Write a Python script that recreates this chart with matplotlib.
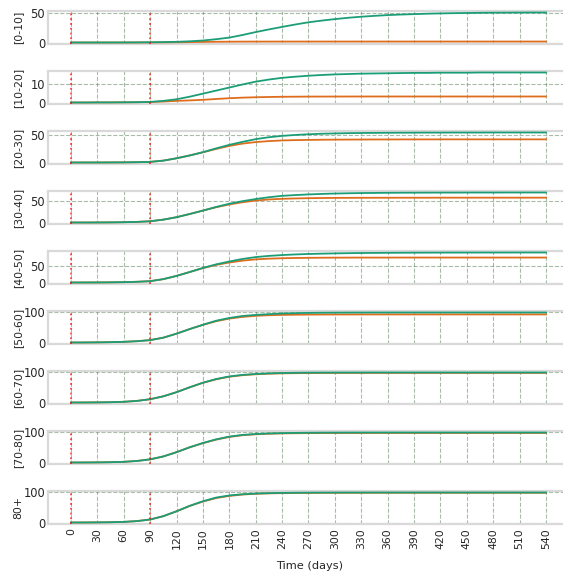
import matplotlib
matplotlib.use("Agg")
import matplotlib.pyplot as plt

# Simulation time axis (days)
days = [0, 15, 30, 45, 60, 75, 90, 105, 120, 135, 150, 165, 180, 195, 210, 225, 240, 255,
        270, 285, 300, 315, 330, 345, 360, 375, 390, 405, 420, 435, 450, 465, 480, 495,
        510, 525, 540]

age_groups = ["[0-10]", "[10-20]", "[20-30]", "[30-40]", "[40-50]",
              "[50-60]", "[60-70]", "[70-80]", "80+"]

# Cumulative percentage per age group: scenario A (teal) and scenario B (orange)
scen_a_00 = [0, 0, 0, 0.05, 0.1, 0.2, 0.4, 0.7, 1.1, 2.0, 3.3, 5.5, 8.2, 12.5, 17.4, 21.8, 26.0, 30.0,
             33.7, 36.5, 39.0, 41.2, 43.0, 44.4, 45.7, 46.6, 47.3, 48.0, 48.5, 48.9, 49.2, 49.5, 49.7, 49.8,
             49.9, 50.0, 50.0]
scen_b_00 = [0, 0, 0, 0, 0, 0.05, 0.1, 0.2, 0.4, 0.7, 0.95, 1.2, 1.35, 1.45, 1.5, 1.52, 1.54, 1.55,
             1.56, 1.57, 1.58, 1.58, 1.59, 1.59, 1.6, 1.6, 1.6, 1.6, 1.6, 1.6, 1.6, 1.6, 1.6, 1.6,
             1.6, 1.6, 1.6]

scen_a_10 = [0.05, 0.05, 0.1, 0.1, 0.15, 0.2, 0.35, 0.9, 1.75, 3.1, 4.7, 6.3, 7.9, 9.5, 11.0, 12.1, 13.0, 13.6,
             14.1, 14.5, 14.8, 15.0, 15.2, 15.3, 15.4, 15.5, 15.6, 15.6, 15.7, 15.7, 15.7, 15.8, 15.8, 15.8,
             15.8, 15.8, 15.8]
scen_b_10 = [0.05, 0.05, 0.1, 0.1, 0.15, 0.2, 0.3, 0.55, 0.9, 1.15, 1.45, 1.9, 2.3, 2.6, 2.8, 2.95, 3.05, 3.1,
             3.15, 3.17, 3.18, 3.19, 3.2, 3.2, 3.2, 3.2, 3.2, 3.2, 3.2, 3.2, 3.2, 3.2, 3.2, 3.2,
             3.2, 3.2, 3.2]

scen_a_20 = [0.05, 0.1, 0.1, 0.2, 0.3, 0.6, 1.2, 3.5, 7.8, 13.0, 19.0, 26.0, 32.5, 38.0, 43.0, 46.5, 49.0, 50.7,
             52.0, 52.9, 53.5, 54.0, 54.3, 54.5, 54.7, 54.8, 54.9, 55.0, 55.0, 55.1, 55.1, 55.1, 55.2, 55.2,
             55.2, 55.2, 55.2]
scen_b_20 = [0.05, 0.1, 0.1, 0.2, 0.3, 0.6, 1.2, 3.5, 7.8, 13.0, 18.8, 25.0, 30.5, 34.8, 37.6, 39.4, 40.6, 41.2,
             41.6, 41.9, 42.1, 42.2, 42.3, 42.4, 42.4, 42.5, 42.5, 42.5, 42.6, 42.6, 42.6, 42.6, 42.6, 42.6,
             42.6, 42.6, 42.6]

scen_a_30 = [0.1, 0.1, 0.2, 0.4, 0.8, 1.5, 3.0, 6.8, 12.5, 20.0, 28.0, 36.5, 44.0, 50.0, 55.0, 59.2, 62.5, 64.3,
             65.8, 67.0, 67.9, 68.5, 69.0, 69.3, 69.6, 69.8, 69.9, 70.0, 70.1, 70.1, 70.2, 70.2, 70.2, 70.3,
             70.3, 70.3, 70.3]
scen_b_30 = [0.1, 0.1, 0.2, 0.4, 0.8, 1.5, 3.0, 6.8, 12.5, 20.0, 28.0, 35.8, 42.3, 47.5, 51.5, 54.0, 55.5, 56.4,
             57.0, 57.4, 57.7, 57.8, 57.9, 58.0, 58.0, 58.1, 58.1, 58.1, 58.2, 58.2, 58.2, 58.2, 58.2, 58.2,
             58.2, 58.2, 58.2]

scen_a_40 = [0.1, 0.2, 0.3, 0.6, 1.1, 2.2, 4.0, 10.0, 19.5, 31.0, 43.0, 53.5, 62.0, 69.5, 75.0, 78.5, 81.0, 82.8,
             84.1, 85.1, 85.9, 86.5, 87.0, 87.3, 87.6, 87.8, 88.0, 88.1, 88.2, 88.3, 88.3, 88.4, 88.4, 88.4,
             88.5, 88.5, 88.5]
scen_b_40 = [0.1, 0.2, 0.3, 0.6, 1.1, 2.2, 4.0, 10.0, 19.5, 31.0, 42.5, 52.0, 59.0, 64.5, 68.3, 70.4, 71.6, 72.3,
             72.8, 73.1, 73.3, 73.4, 73.5, 73.5, 73.5, 73.6, 73.6, 73.6, 73.6, 73.6, 73.6, 73.6, 73.6, 73.6,
             73.6, 73.6, 73.6]

scen_a_50 = [0.3, 0.4, 0.8, 1.4, 2.5, 4.5, 8.0, 16.0, 29.0, 44.0, 58.0, 71.0, 80.0, 86.5, 90.0, 92.5, 94.5, 95.7,
             96.5, 97.0, 97.3, 97.5, 97.6, 97.7, 97.7, 97.8, 97.8, 97.8, 97.8, 97.8, 97.8, 97.8, 97.8, 97.8,
             97.8, 97.8, 97.8]
scen_b_50 = [0.3, 0.4, 0.8, 1.4, 2.5, 4.5, 8.0, 16.0, 29.0, 44.0, 57.5, 69.5, 78.0, 83.5, 87.0, 89.0, 90.0, 90.6,
             91.0, 91.2, 91.3, 91.4, 91.4, 91.5, 91.5, 91.5, 91.5, 91.5, 91.5, 91.5, 91.5, 91.5, 91.5, 91.5,
             91.5, 91.5, 91.5]

scen_a_60 = [0.3, 0.4, 0.7, 1.3, 2.6, 5.5, 11.0, 20.5, 34.0, 50.0, 65.0, 77.0, 85.5, 90.5, 93.5, 95.4, 96.6, 97.3,
             97.8, 98.0, 98.1, 98.2, 98.2, 98.3, 98.3, 98.3, 98.3, 98.3, 98.3, 98.3, 98.3, 98.3, 98.3, 98.3,
             98.3, 98.3, 98.3]
scen_b_60 = [0.3, 0.4, 0.7, 1.3, 2.6, 5.5, 11.0, 20.5, 34.0, 50.0, 64.5, 76.0, 84.5, 89.5, 92.5, 94.4, 95.5, 96.1,
             96.5, 96.7, 96.8, 96.9, 96.9, 97.0, 97.0, 97.0, 97.0, 97.0, 97.0, 97.0, 97.0, 97.0, 97.0, 97.0,
             97.0, 97.0, 97.0]

scen_a_70 = [0.2, 0.3, 0.6, 1.2, 2.4, 5.2, 10.5, 20.0, 34.0, 50.0, 64.0, 76.0, 85.0, 90.5, 93.5, 95.3, 96.4, 97.1,
             97.6, 97.9, 98.1, 98.2, 98.3, 98.3, 98.4, 98.4, 98.4, 98.4, 98.4, 98.4, 98.4, 98.4, 98.4, 98.4,
             98.4, 98.4, 98.4]
scen_b_70 = [0.2, 0.3, 0.6, 1.2, 2.4, 5.2, 10.5, 20.0, 34.0, 50.0, 63.5, 75.0, 84.0, 89.5, 92.5, 94.3, 95.4, 96.0,
             96.4, 96.6, 96.7, 96.8, 96.8, 96.9, 96.9, 96.9, 96.9, 96.9, 96.9, 96.9, 96.9, 96.9, 96.9, 96.9,
             96.9, 96.9, 96.9]

scen_a_80 = [0.2, 0.3, 0.6, 1.1, 2.2, 4.8, 10.0, 21.0, 37.0, 55.0, 70.0, 82.0, 89.0, 93.0, 95.3, 96.6, 97.4, 97.9,
             98.2, 98.4, 98.5, 98.6, 98.6, 98.7, 98.7, 98.7, 98.7, 98.7, 98.7, 98.7, 98.7, 98.7, 98.7, 98.7,
             98.7, 98.7, 98.7]
scen_b_80 = [0.2, 0.3, 0.6, 1.1, 2.2, 4.8, 10.0, 21.0, 37.0, 54.5, 69.0, 80.5, 87.5, 92.0, 94.5, 95.8, 96.6, 97.1,
             97.4, 97.6, 97.7, 97.7, 97.8, 97.8, 97.8, 97.8, 97.8, 97.8, 97.8, 97.8, 97.8, 97.8, 97.8, 97.8,
             97.8, 97.8, 97.8]

scen_a = [scen_a_00, scen_a_10, scen_a_20, scen_a_30, scen_a_40, scen_a_50, scen_a_60, scen_a_70, scen_a_80]
scen_b = [scen_b_00, scen_b_10, scen_b_20, scen_b_30, scen_b_40, scen_b_50, scen_b_60, scen_b_70, scen_b_80]

y_ticks = [[0, 50], [0, 10], [0, 50], [0, 50], [0, 50], [0, 100], [0, 100], [0, 100], [0, 100]]
x_ticks = [0, 30, 60, 90, 120, 150, 180, 210, 240, 270, 300, 330, 360, 390, 420, 450, 480, 510, 540]
event_days = [0, 90]

color_a = "#1b9e77"
color_b = "#de6d1e"
text_color = "#262626"

W, H = 563, 574
fig = plt.figure(figsize=(W / 100, H / 100), dpi=100)

ax_left = 48
ax_right = 563
panel_h = 33
panel_step = 60
first_top = 11

axes = []
for i, grp in enumerate(age_groups):
    top = first_top + panel_step * i
    ax = fig.add_axes([ax_left / W, 1 - (top + panel_h) / H,
                       (ax_right - ax_left) / W, panel_h / H])
    axes.append(ax)

    ax.plot(days, scen_b[i], color=color_b, lw=1.3, zorder=3)
    ax.plot(days, scen_a[i], color=color_a, lw=1.3, zorder=4)
    for d in event_days:
        ax.axvline(d, color="red", ls=":", lw=1.3, alpha=0.7, zorder=5)

    ax.set_xlim(-26.1, 559.3)
    ax.set_yticks(y_ticks[i])
    ax.set_xticks(x_ticks)
    ax.grid(True, ls="--", lw=0.8, color="#4f7a4f", alpha=0.5, zorder=1)
    ax.set_axisbelow(True)
    for side in ["top", "bottom", "left"]:
        ax.spines[side].set_color("#d9d9d9")
        ax.spines[side].set_linewidth(1.6)
    ax.spines["right"].set_visible(False)
    ax.tick_params(axis="both", length=0, pad=2, labelsize=8.3, colors=text_color)
    ax.set_ylabel(grp, fontsize=7.8, color=text_color, labelpad=3)
    ax.yaxis.set_label_coords(-25 / (ax_right - ax_left), 0.5)
    if i < len(age_groups) - 1:
        ax.tick_params(axis="x", labelbottom=False)
    else:
        ax.tick_params(axis="x", labelrotation=90, labelsize=7.8, pad=3)

fig.text(309.5 / W, 1 - 566 / H, "Time (days)", ha="center", va="center",
         fontsize=8.2, color=text_color)

fig.savefig("out.png", dpi=100)
